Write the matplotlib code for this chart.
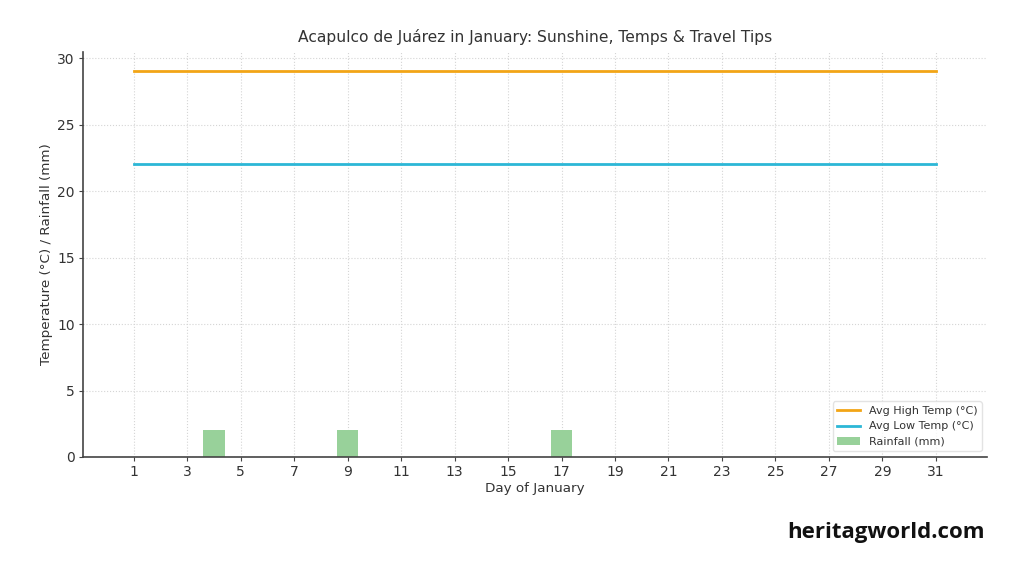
import matplotlib
matplotlib.use("Agg")
import matplotlib.pyplot as plt
import numpy as np

days = list(range(1, 32))
avg_high = [29] * 31
avg_low = [22] * 31
rain_days = [4, 9, 17]
rain_mm = [2, 2, 2]
xticks = list(range(1, 32, 2))
yticks = [0, 5, 10, 15, 20, 25, 30]

plt.rcParams['font.family'] = ['DejaVu Sans']
fig = plt.figure(figsize=(10.24, 5.76), dpi=100)
ax = fig.add_axes([0.081, 0.2066, 0.883, 0.703])

text_c = '#333333'
ax.plot(days, avg_high, color='#f2a516', lw=2, label='Avg High Temp (°C)', zorder=3)
ax.plot(days, avg_low, color='#2cb7d6', lw=2, label='Avg Low Temp (°C)', zorder=3)
ax.bar(rain_days, rain_mm, width=0.8, color='#98d19a', label='Rainfall (mm)', zorder=2)

ax.set_xlim(-0.9, 32.92)
ax.set_ylim(0, 30.45)
ax.set_xticks(xticks)
ax.set_yticks(yticks)
ax.grid(True, linestyle=':', color='#d5d5d5', lw=0.8, zorder=0)
for s in ['top', 'right']:
    ax.spines[s].set_visible(False)
for s in ['left', 'bottom']:
    ax.spines[s].set_color('#444444')
    ax.spines[s].set_linewidth(1.2)
ax.tick_params(colors='#444444', labelcolor=text_c, labelsize=10, length=3, pad=3)

ax.set_title('Acapulco de Juárez in January: Sunshine, Temps & Travel Tips', fontsize=11.2, color=text_c, pad=7)
ax.set_xlabel('Day of January', fontsize=9.7, color=text_c, labelpad=2)
ax.set_ylabel('Temperature (°C) / Rainfall (mm)', fontsize=9.7, color=text_c, labelpad=3)

leg = ax.legend(loc='lower right', fontsize=8, frameon=True, fancybox=True, labelcolor=text_c)
leg.get_frame().set_edgecolor('#dddddd')

fig.text(0.962, 0.075, 'heritagworld.com', ha='right', va='center', fontsize=16,
         fontweight='bold', family=['Open Sans', 'DejaVu Sans'], color='#111111')

fig.savefig('out.png', dpi=100, facecolor='white')
